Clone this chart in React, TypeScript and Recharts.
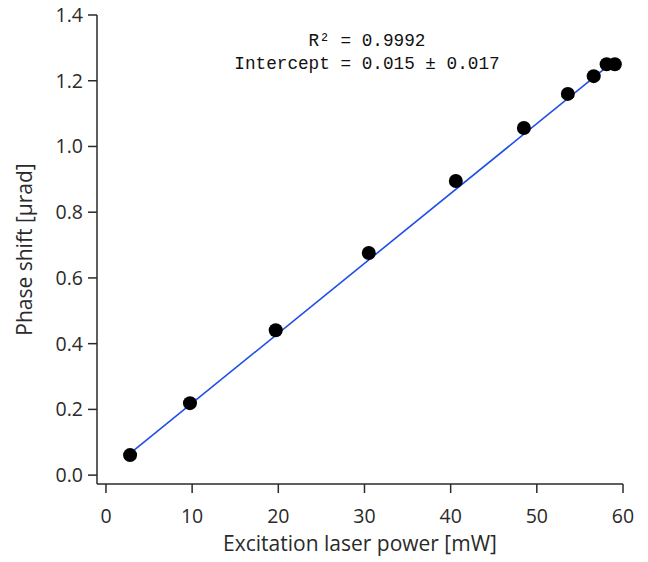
import React from 'react';
import { ComposedChart, Scatter, XAxis, YAxis, Label } from 'recharts';

const powerMW = [2.8, 9.75, 19.7, 30.5, 40.6, 48.5, 53.6, 56.6, 58.1, 59.05];
const phaseShift = [0.061, 0.219, 0.441, 0.676, 0.895, 1.056, 1.16, 1.214, 1.25, 1.25];
const fitX = [2.8, 59.05];
const fitY = [0.066, 1.262];
const xTicks = [0, 10, 20, 30, 40, 50, 60];
const yTicks = [0, 0.2, 0.4, 0.6, 0.8, 1.0, 1.2, 1.4];
const annotation = ['R\u00b2 = 0.9992', 'Intercept = 0.015 \u00b1 0.017'];
const xTitle = 'Excitation laser power [mW]';
const yTitle = 'Phase shift [\u00b5rad]';

const points = powerMW.map((x, i) => ({ x, y: phaseShift[i] }));
const fit = fitX.map((x, i) => ({ x, y: fitY[i] }));

const AXIS = '#2a2a2a';
const FONT = '"Open Sans", "Noto Sans", sans-serif';

const Dot = (props: any) => <circle cx={props.cx} cy={props.cy} r={7} fill="#000" />;
const NoShape = () => null;

export default function App() {
  return (
    <div style={{ position: 'absolute', left: 0, top: 0, width: 648, height: 562, background: '#fff' }}>
      <ComposedChart
        width={648}
        height={562}
        margin={{ top: 15, right: 25, bottom: 38, left: 37 }}
      >
        <XAxis
          type="number"
          dataKey="x"
          domain={[-1.04, 60]}
          ticks={xTicks}
          allowDataOverflow
          height={40}
          tickSize={9}
          tickMargin={16}
          stroke={AXIS}
          strokeWidth={1.5}
          tick={{ fill: '#2a2a2a', fontSize: 19.5, fontFamily: FONT }}
        >
          <Label
            value={xTitle}
            position="bottom"
            offset={12}
            style={{ fill: '#2a2a2a', fontSize: 21, fontFamily: FONT }}
          />
        </XAxis>
        <YAxis
          type="number"
          dataKey="y"
          domain={[-0.027, 1.4]}
          ticks={yTicks}
          allowDataOverflow
          width={60}
          tickSize={9}
          tickMargin={5}
          stroke={AXIS}
          strokeWidth={1.5}
          tickFormatter={(v: number) => v.toFixed(1)}
          tick={{ fill: '#2a2a2a', fontSize: 19.5, fontFamily: FONT }}
        >
          <Label
            value={yTitle}
            angle={-90}
            position="insideLeft"
            offset={-12}
            style={{ fill: '#2a2a2a', fontSize: 21, fontFamily: FONT, textAnchor: 'middle' }}
          />
        </YAxis>
        <Scatter
          data={fit}
          line={{ stroke: '#1f4fe6', strokeWidth: 1.6 }}
          shape={NoShape}
          isAnimationActive={false}
        />
        <Scatter data={points} shape={Dot} fill="#000" isAnimationActive={false} />
      </ComposedChart>
      <div
        style={{
          position: 'absolute',
          left: 167,
          top: 30,
          width: 400,
          textAlign: 'center',
          fontFamily: '"Liberation Mono", "DejaVu Sans Mono", monospace',
          fontSize: 17.7,
          lineHeight: '23px',
          color: '#111',
          whiteSpace: 'pre',
        }}
      >
        {annotation.map((t) => (
          <div key={t}>{t}</div>
        ))}
      </div>
    </div>
  );
}
